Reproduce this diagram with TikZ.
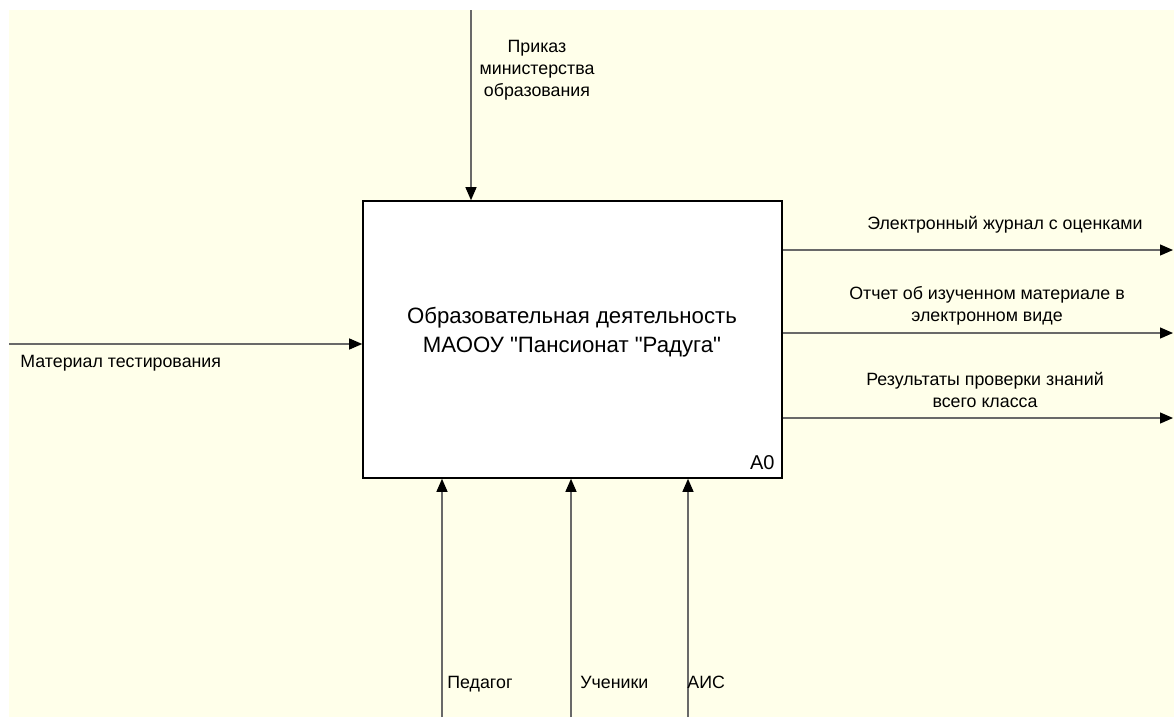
\documentclass[tikz,border=0pt]{standalone}
\usepackage{fontspec}
\newfontfamily\idef{Liberation Sans}
\usetikzlibrary{arrows.meta}
\definecolor{paper}{RGB}{255,255,234}
\definecolor{wire}{RGB}{105,105,105}

\begin{document}
\begin{tikzpicture}[x=0.5pt,y=-0.5pt,
	every node/.style={font=\idef\fontsize{8.9}{11}\selectfont, inner sep=0pt},
	flow/.style={wire, line width=0.6pt, -{Triangle[length=6.5pt,width=5.5pt,color=black]}},
	lbl/.style={align=center}]
	\useasboundingbox (0,0) rectangle (1174,718);
	\fill[paper] (9,10) rectangle (1174,717);
	\node[draw=black, line width=0.8pt, fill=white, minimum width=209.5pt, minimum height=138.5pt] (act) at (572.5,339.5) {};
	\node[lbl, font=\idef\fontsize{11.1}{14.5}\selectfont] (title) at (572,332) {Образовательная деятельность\\МАООУ "Пансионат "Радуга"};
	\node[anchor=south east] (num) at (775,470) {\fontsize{10}{12}\selectfont A0};
	\coordinate (ctl) at (471,10);
	\draw[flow] (ctl) -- (ctl |- act.north);
	\node[lbl] (ctltext) at (537,70) {Приказ\\министерства\\образования};
	\coordinate (inp) at (9,344);
	\draw[flow] (inp) -- (inp -| act.west);
	\node[anchor=base west] (inptext) at (20,367) {Материал тестирования};
	\foreach \y/\tx/\ty/\name/\txt in {250/1005/225/outa/{Электронный журнал с оценками}, 333/987/306/outb/{Отчет об изученном материале в\\электронном виде}, 418/985/390/outc/{Результаты проверки знаний\\всего класса}} {
		\coordinate (\name) at (1173,\y);
		\draw[flow] (act.east |- \name) -- (\name);
		\node[lbl] (\name text) at (\tx,\ty) {\txt};
	}
	\foreach \x/\dx/\name/\txt in {442/5/mecha/Педагог, 571/9/mechb/Ученики, 688/-1/mechc/АИС} {
		\coordinate (\name) at (\x,717);
		\draw[flow] (\name) -- (\name |- act.south);
		\node[anchor=base west] (\name text) at (\x+\dx,688) {\txt};
	}
\end{tikzpicture}
\end{document}
